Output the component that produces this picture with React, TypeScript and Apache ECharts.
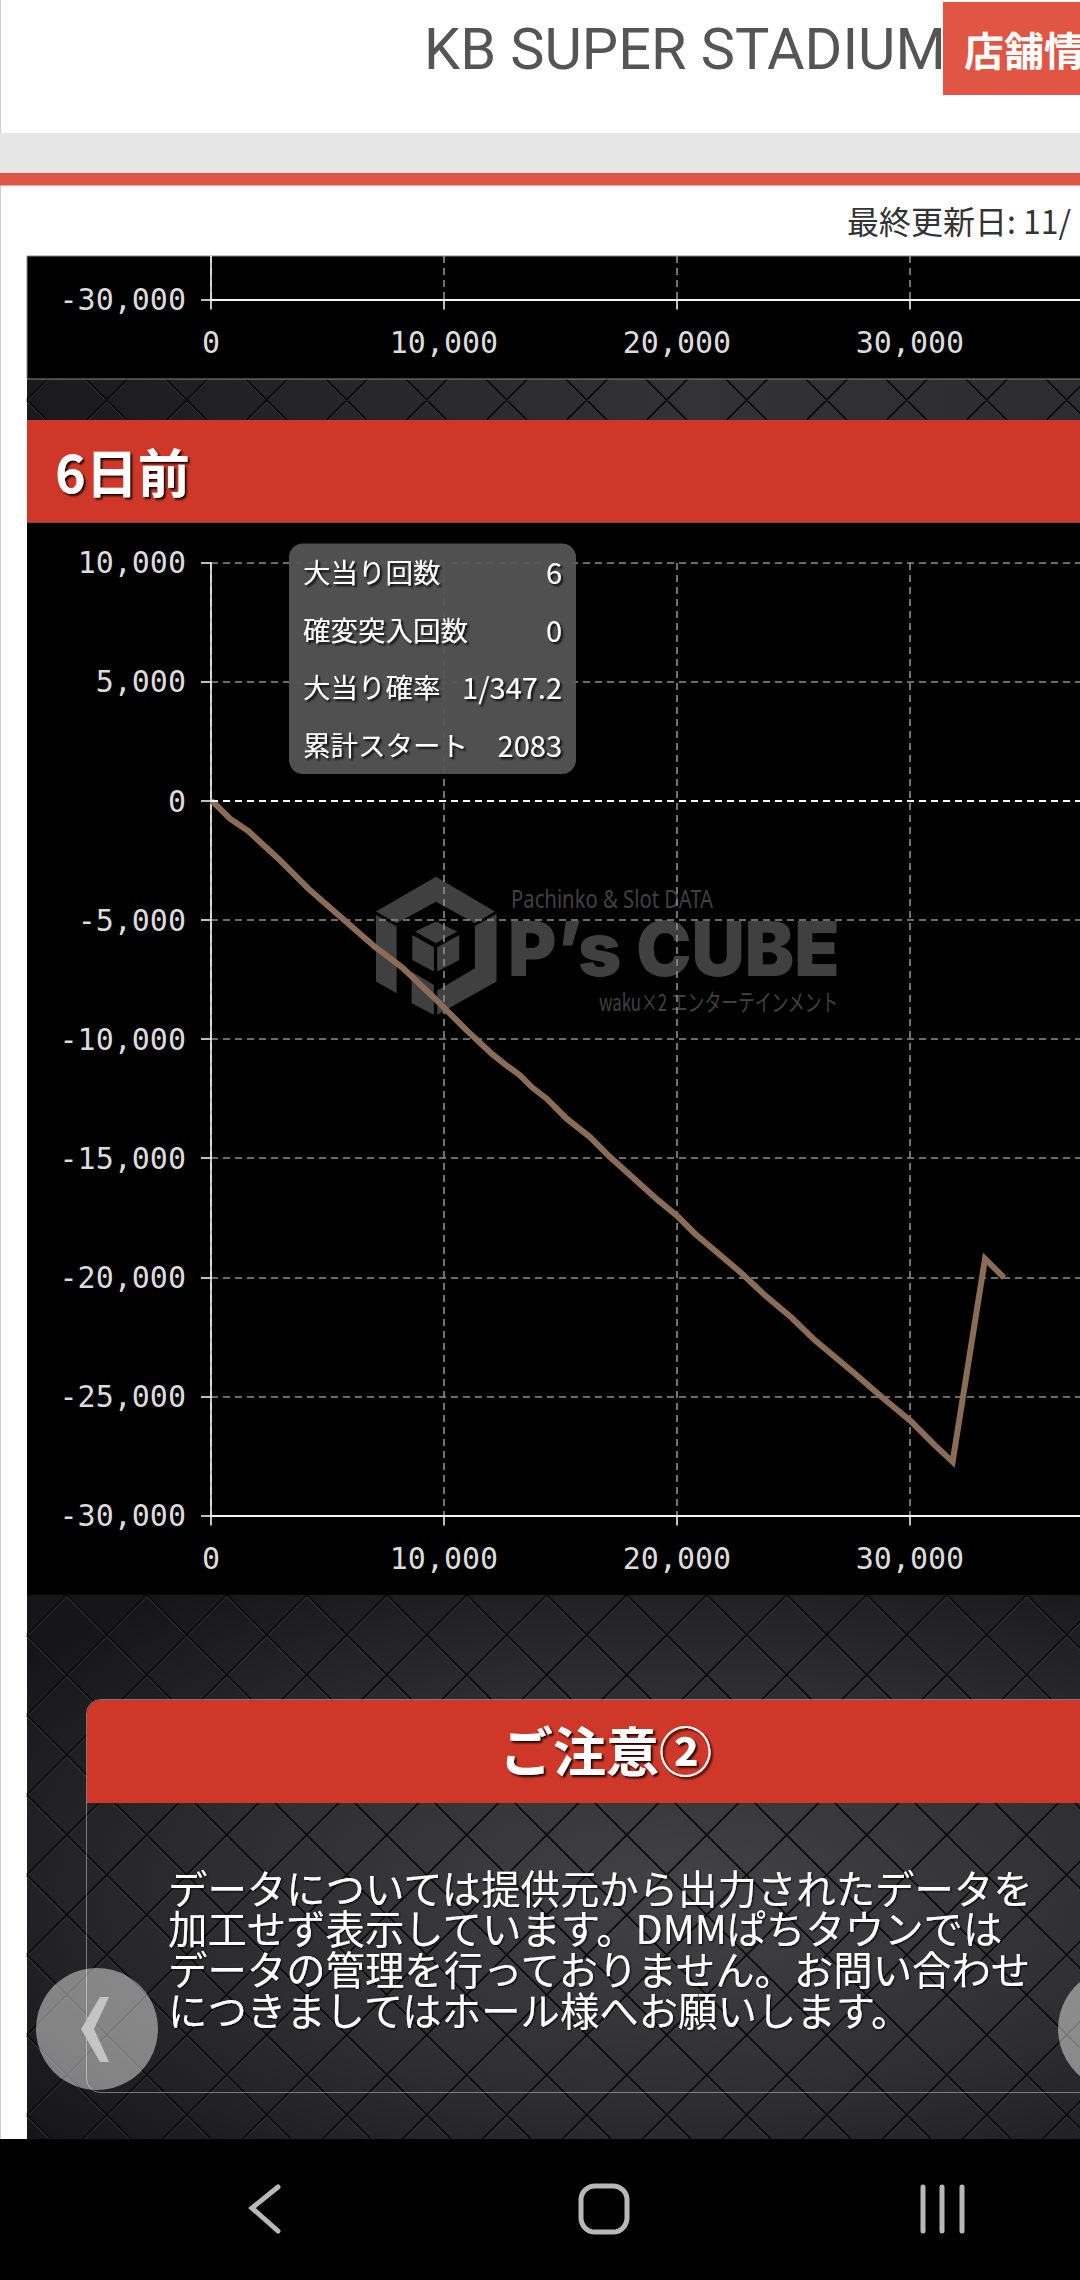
import React, { useEffect, useRef } from "react";
import * as echarts from "echarts";

// ---- data ----
const startsX = [0, 142, 815, 1602, 2890, 4176, 5322, 7039, 8185, 9614, 10472, 10974, 12047, 12618, 13262, 13764, 14408, 15266, 16266, 17124, 19198, 20056, 20773, 22632, 23777, 24922, 25923, 26781, 27639, 28785, 30073, 31073, 31830, 33219, 34034];
const balanceY = [0, -86, -741, -1262, -2422, -3680, -4663, -6130, -6973, -8300, -9140, -9632, -10610, -11060, -11520, -12010, -12500, -13340, -14110, -14950, -16770, -17470, -18170, -19710, -20760, -21700, -22650, -23350, -24050, -25030, -26080, -27060, -27750, -19220, -20020];
const statLabels = ["大当り回数", "確変突入回数", "大当り確率", "累計スタート"];
const statValues = ["6", "0", "1/347.2", "2083"];
const noticeLines = [
  "データについては提供元から出力されたデータを",
  "加工せず表示しています。DMMぱちタウンでは",
  "データの管理を行っておりません。お問い合わせ",
  "につきましてはホール様へお願いします。",
];

const JP = '"Noto Sans CJK JP", "Noto Sans", sans-serif';
const MONO = '"DejaVu Sans Mono", "Liberation Mono", monospace';

// Decorative diamond lattice, clipped to a rectangle; 80px period through a crossing at (cx, cy)
function latticePath(x0: number, y0: number, w: number, h: number, cx: number, cy: number) {
  let d = "";
  for (let k = -60; k < 60; k++) {
    const c1 = cy - (cx + k * 80); // y = x + c1
    let a = Math.max(x0, y0 - c1);
    let b = Math.min(x0 + w, y0 + h - c1);
    if (b > a) d += `M${a} ${a + c1}L${b} ${b + c1}`;
    const c2 = cy + cx + k * 80; // y = -x + c2
    a = Math.max(x0, c2 - y0 - h);
    b = Math.min(x0 + w, c2 - y0);
    if (b > a) d += `M${a} ${c2 - a}L${b} ${c2 - b}`;
  }
  return d;
}

echarts.graphic.registerShape("latticeTop", echarts.graphic.extendPath(latticePath(27, 379, 1173, 41, 106.7, 400), {}));
echarts.graphic.registerShape("latticeLow", echarts.graphic.extendPath(latticePath(27, 1595, 1173, 544, 106.7, 1635), {}));
echarts.graphic.registerShape(
  "cubeLogo",
  echarts.graphic.extendPath(
    "M48 155L228 50L405 155L345 190L228 125L110 190Z" +
      "M48 165L110 200L110 400L48 365Z" +
      "M410 162L345 198L345 325L232 392L232 465L410 365Z" +
      "M155 335L222 375L222 465L155 430Z" +
      "M165 215L228 185L292 215L228 250Z" +
      "M157 225L222 262L222 335L157 300Z" +
      "M232 262L298 225L298 300L232 335Z",
    {}
  )
);

function rowText(text: string, x: number, y: number, fontSize: number, fill: string, extra: any = {}) {
  return {
    type: "text",
    x,
    y,
    z: extra.z ?? 20,
    style: {
      text,
      fontSize,
      fontFamily: extra.fontFamily ?? JP,
      fontWeight: extra.fontWeight ?? "normal",
      fill,
      align: extra.align ?? "left",
      verticalAlign: "middle",
      ...(extra.shadow
        ? { textShadowColor: "rgba(0,0,0,0.9)", textShadowBlur: 2, textShadowOffsetX: extra.shadow, textShadowOffsetY: extra.shadow }
        : {}),
    },
    ...(extra.scaleX ? { scaleX: extra.scaleX } : {}),
    silent: true,
  };
}

function rect(x: number, y: number, w: number, h: number, fill: any, z: number, extra: any = {}) {
  return { type: "rect", z, silent: true, shape: { x, y, width: w, height: h, r: extra.r ?? 0 }, style: { fill, stroke: extra.stroke, lineWidth: extra.lineWidth } };
}

export default function App() {
  const ref = useRef<HTMLDivElement>(null);
  useEffect(() => {
    const chart = echarts.init(ref.current!, undefined, { renderer: "svg", width: 1200, height: 2280 });
    const labelStyle = { color: "#dcdcdc", fontFamily: MONO, fontSize: 30 };
    const gridDash = { color: "#8e8e8e", width: 1.6, type: [7, 5] as any };
    const axisLine = { show: true, onZero: false, lineStyle: { color: "#f4f4f4", width: 1.6 } };
    const tick = { show: true, length: 10, lineStyle: { color: "#f0f0f0", width: 1.6 } };
    const fmt = (v: number) => v.toLocaleString("en-US");

    const lowGradient = {
      type: "radial", x: 0.55, y: 0.55, r: 0.7,
      colorStops: [{ offset: 0, color: "#434345" }, { offset: 0.55, color: "#2e2e30" }, { offset: 1, color: "#161618" }],
    };
    const topGradient = {
      type: "linear", x: 0, y: 0, x2: 1, y2: 0,
      colorStops: [{ offset: 0, color: "#1a1a1c" }, { offset: 0.55, color: "#333335" }, { offset: 1, color: "#2a2a2c" }],
    };

    const graphicEls: any[] = [
      // page furniture
      rect(0, 0, 1200, 2280, "#ffffff", -20),
      rect(0, 0, 1, 2139, "#cfcfcf", -19),
      rect(0, 133, 1200, 40, "#e6e6e6", -19),
      rect(0, 173, 1200, 12.5, "#e05544", -19),
      // textures
      rect(27, 379, 1200, 41, topGradient, -18),
      { type: "latticeTop", z: -17, silent: true, x: 0, y: 1.6, style: { fill: "none", stroke: "#48484a", lineWidth: 1 } },
      { type: "latticeTop", z: -17, silent: true, style: { fill: "none", stroke: "#0d0d0e", lineWidth: 2 } },
      rect(27, 256, 1200, 123, "#000000", -15, { stroke: "#8a8a8a", lineWidth: 1 }),
      rect(27, 1595, 1200, 544, lowGradient, -15),
      { type: "latticeLow", z: -14, silent: true, x: 0, y: 1.6, style: { fill: "none", stroke: "#515153", lineWidth: 1 } },
      { type: "latticeLow", z: -14, silent: true, style: { fill: "none", stroke: "#0d0d0e", lineWidth: 2 } },
      rect(27, 420, 1200, 102.5, "#cf3829", -12),
      rect(27, 522.5, 1200, 1072.5, "#000000", -12),
      rect(0, 2139, 1200, 141, "#000000", -11),
      // watermark
      { type: "cubeLogo", x: 360, y: 860, scaleX: 1 / 3, scaleY: 1 / 3, z: -10, silent: true, style: { fill: "#404040" } },
      rowText("Pachinko & Slot DATA", 511, 898, 26, "#404040", { z: -10, fontFamily: '"Noto Sans", sans-serif', scaleX: 0.78 }),
      rowText("P’s CUBE", 508, 949, 75, "#404040", { z: -10, fontFamily: "Inter, sans-serif", fontWeight: 900, scaleX: 0.986 }),
      rowText("waku×2 エンターテインメント", 599, 1001, 24, "#404040", { z: -10, scaleX: 0.7 }),
      // header
      rect(943, 2, 300, 93, "#e05544", 20),
      rowText("KB SUPER STADIUM", 424, 49, 57.6, "#555555", { fontFamily: "Roboto, sans-serif", fontWeight: 400 }),
      rowText("店舗情報", 964, 49, 40, "#ffffff", { fontWeight: "bold", z: 21 }),
      rowText("最終更新日: 11/", 847, 220, 32, "#333333"),
      // day heading
      rowText("6日前", 55, 470, 52, "#ffffff", { fontWeight: "bold", shadow: 2 }),
      // stats box
      rect(289, 543.5, 287, 230.5, "rgba(84,84,84,0.95)", 15, { r: 14 }),
      ...statLabels.map((t, i) => rowText(t, 303, [571, 629, 686, 744][i], 27.5, "#ffffff", { shadow: 2 })),
      ...statValues.map((t, i) => rowText(t, 562, [571, 629, 686, 744][i], 29, "#ffffff", { align: "right", shadow: 2 })),
      // notice box
      rect(86.5, 1699.5, 1200, 393, "rgba(0,0,0,0)", 15, { r: 14, stroke: "rgba(255,255,255,0.4)", lineWidth: 1 }),
      { type: "rect", z: 16, silent: true, shape: { x: 87, y: 1700, width: 1200, height: 103, r: [14, 0, 0, 0] }, style: { fill: "#cf3829" } },
      rowText("ご注意②", 500, 1749, 53, "#ffffff", { fontWeight: "bold", shadow: 2 }),
      ...noticeLines.map((t, i) => rowText(t, 168, 1886 + i * 40.7, 39.4, "#ffffff", { shadow: 1 })),
      // paging buttons
      { type: "circle", z: 30, silent: true, shape: { cx: 97, cy: 2029, r: 61 }, style: { fill: "rgba(255,255,255,0.45)" } },
      { type: "circle", z: 30, silent: true, shape: { cx: 1119, cy: 2029, r: 61 }, style: { fill: "rgba(255,255,255,0.45)" } },
      { type: "polygon", z: 31, silent: true, shape: { points: [[100, 1997], [109, 1997], [94, 2029], [109, 2062], [100, 2062], [81, 2029]] }, style: { fill: "#c4c4c4" } },
      // android nav bar
      { type: "polyline", z: 31, silent: true, shape: { points: [[278, 2187], [252, 2208], [278, 2231]] }, style: { fill: "none", stroke: "#b8b8b8", lineWidth: 5, lineCap: "round" } },
      { type: "rect", z: 31, silent: true, shape: { x: 581, y: 2186, width: 46, height: 46, r: 14 }, style: { fill: "none", stroke: "#b8b8b8", lineWidth: 5 } },
      ...[923, 942, 962].map((x) => ({ type: "line", z: 31, silent: true, shape: { x1: x, y1: 2187, x2: x, y2: 2231 }, style: { stroke: "#b8b8b8", lineWidth: 5, lineCap: "round" } })),
    ];

    chart.setOption({
      animation: false,
      backgroundColor: "transparent",
      graphic: { elements: graphicEls },
      grid: [
        { left: 211, top: 256, width: 932, height: 43.6, containLabel: false },
        { left: 211, top: 562.9, width: 932, height: 952.5, containLabel: false },
      ],
      xAxis: [
        {
          gridIndex: 0, type: "value", min: 0, max: 40000, interval: 10000,
          axisLine: { ...axisLine, lineStyle: { color: "#f4f4f4", width: 2 } }, axisTick: tick,
          axisLabel: { ...labelStyle, margin: 28, formatter: fmt, showMaxLabel: false },
          splitLine: { show: true, lineStyle: gridDash },
        },
        {
          gridIndex: 1, type: "value", min: 0, max: 40000, interval: 10000,
          axisLine: { ...axisLine, lineStyle: { color: "#f4f4f4", width: 2 } }, axisTick: tick,
          axisLabel: { ...labelStyle, margin: 28, formatter: fmt, showMaxLabel: false },
          splitLine: { show: true, lineStyle: gridDash },
        },
      ],
      yAxis: [
        {
          gridIndex: 0, type: "value", min: -30000, max: -28169,
          axisLine, axisTick: { ...tick, customValues: [-30000] },
          axisLabel: { ...labelStyle, margin: 25, formatter: fmt, customValues: [-30000] },
          splitLine: { show: false },
        },
        {
          gridIndex: 1, type: "value", min: -30000, max: 10000, interval: 5000,
          axisLine, axisTick: tick,
          axisLabel: { ...labelStyle, margin: 25, formatter: fmt },
          splitLine: { show: true, lineStyle: gridDash },
        },
      ],
      series: [
        {
          type: "line", xAxisIndex: 1, yAxisIndex: 1, showSymbol: false, symbol: "none", silent: true,
          data: startsX.map((x, i) => [x, balanceY[i]]),
          lineStyle: { color: "#8b6c56", width: 6, join: "miter" },
          markLine: {
            silent: true, symbol: "none", label: { show: false },
            lineStyle: { color: "#ffffff", width: 2, type: [7, 5] as any },
            data: [{ yAxis: 0 }],
          },
        },
      ],
    });
    return () => chart.dispose();
  }, []);
  return (
    <div style={{ position: "absolute", left: 0, top: 0, width: 1080, height: 2280, overflow: "hidden", background: "#fff" }}>
      <div ref={ref} style={{ width: 1200, height: 2280 }} />
    </div>
  );
}
